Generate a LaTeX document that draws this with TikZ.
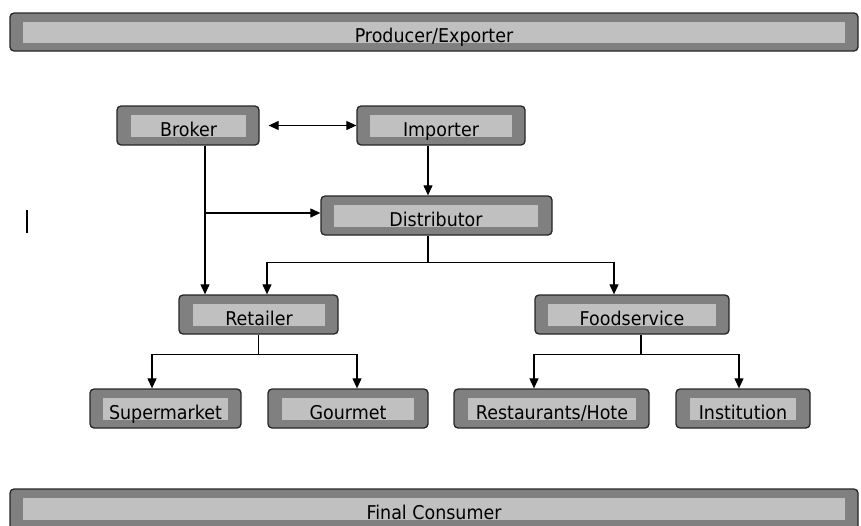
\documentclass[tikz,border=0pt]{standalone}
\usepackage{fontspec}
\setmainfont{DejaVu Sans}[FakeStretch=0.92]
\usepackage{xcolor}
\definecolor{boxdark}{RGB}{128,128,128}
\definecolor{boxlight}{RGB}{192,192,192}
\usetikzlibrary{arrows.meta,positioning,calc}

\tikzset{
  outerbox/.style={draw=black!85, fill=boxdark, line width=1.3pt, rounded corners=4pt, inner sep=0pt},
  innerbox/.style={fill=boxlight, inner sep=0pt, font=\fontsize{19}{22}\selectfont, text height=20pt, text depth=0pt},
  link/.style={line width=1.1pt, black},
  arr/.style={link, -{Triangle[length=10pt,width=9pt]}},
  arrboth/.style={link, {Triangle[length=10pt,width=9pt]}-{Triangle[length=10pt,width=9pt]}}
}

\begin{document}
\begin{tikzpicture}[x=1pt, y=-1pt]
  \useasboundingbox (0,0) rectangle (861,525);

  % Top and bottom bars
  \node[outerbox, minimum width=848pt, minimum height=38pt] (producer) at (434,32) {};
  \node[innerbox, minimum width=822pt, minimum height=21pt] (producer-in) at (434,32.5) {Producer/Exporter};
  \node[outerbox, minimum width=848pt, minimum height=42pt] (consumer) at (434,510) {};
  \node[innerbox, minimum width=822pt, minimum height=22pt] (consumer-in) at (434,509) {Final Consumer};

  % Broker and Importer
  \node[outerbox, minimum width=142pt, minimum height=39pt] (broker) at (188,125.5) {};
  \node[innerbox, minimum width=115pt, minimum height=22pt] (broker-in) at (188.5,126) {Broker};
  \node[outerbox, minimum width=168pt, minimum height=39pt] (importer) at (441,125.5) {};
  \node[innerbox, minimum width=142pt, minimum height=22pt] (importer-in) at (441,126) {Importer};

  % Distributor
  \node[outerbox, minimum width=231pt, minimum height=39pt] (distributor) at (436.5,215.5) {};
  \node[innerbox, minimum width=204pt, minimum height=22pt] (distributor-in) at (436,216) {Distributor};

  % Retailer and Foodservice
  \node[outerbox, minimum width=159pt, minimum height=39pt] (retailer) at (258.5,314.5) {};
  \node[innerbox, minimum width=132pt, minimum height=22pt] (retailer-in) at (259,315) {Retailer};
  \node[outerbox, minimum width=194pt, minimum height=39pt] (foodservice) at (632,314.5) {};
  \node[innerbox, minimum width=168pt, minimum height=22pt] (foodservice-in) at (632,315) {Foodservice};

  % Outlets
  \node[outerbox, minimum width=151pt, minimum height=39pt] (supermarket) at (165.5,408.5) {};
  \node[innerbox, minimum width=125pt, minimum height=22pt] (supermarket-in) at (165.5,409) {Supermarket};
  \node[outerbox, minimum width=160pt, minimum height=39pt] (gourmet) at (348,408.5) {};
  \node[innerbox, minimum width=132pt, minimum height=22pt] (gourmet-in) at (348,409) {Gourmet};
  \node[outerbox, minimum width=195pt, minimum height=39pt] (restaurants) at (551.5,408.5) {};
  \node[innerbox, minimum width=168pt, minimum height=22pt] (restaurants-in) at (552,409) {Restaurants/Hote};
  \node[outerbox, minimum width=134pt, minimum height=39pt] (institution) at (743,408.5) {};
  \node[innerbox, minimum width=106pt, minimum height=22pt] (institution-in) at (743,409) {Institution};

  % Arrows
  \draw[arrboth, shorten <=9pt] (broker.east) -- (importer.west);
  \draw[arr] ([xshift=-13pt]importer.south) -- ([xshift=-13pt]importer.south |- distributor.north);
  \draw[arr] ([xshift=17pt]broker.south) -- ([xshift=17pt]broker.south |- retailer.north);
  \draw[arr] ([xshift=17pt,yshift=2.5pt]broker.south |- distributor.west) -- ([yshift=2.5pt]distributor.west);

  \coordinate (dsplit) at ([xshift=-8.5pt,yshift=-27pt]distributor.south);
  \draw[link] ([xshift=-8.5pt]distributor.south) -- (dsplit);
  \draw[arr] (dsplit) -| ([xshift=8.5pt]retailer.north);
  \draw[arr] (dsplit) -| ([xshift=-18pt]foodservice.north);

  \coordinate (rsplit) at ([yshift=-20pt]retailer.south);
  \draw[link] (retailer.south) -- (rsplit);
  \draw[arr] (rsplit) -| ([xshift=-13.5pt]supermarket.north);
  \draw[arr] (rsplit) -| ([xshift=9pt]gourmet.north);

  \coordinate (fsplit) at ([xshift=9pt,yshift=-20pt]foodservice.south);
  \draw[link] ([xshift=9pt]foodservice.south) -- (fsplit);
  \draw[arr] (fsplit) -| ([xshift=-17.5pt]restaurants.north);
  \draw[arr] (fsplit) -| ([xshift=-4pt]institution.north);

  % stray mark at left
  \draw[line width=1.6pt] (27,210) -- (27,233);
\end{tikzpicture}
\end{document}
